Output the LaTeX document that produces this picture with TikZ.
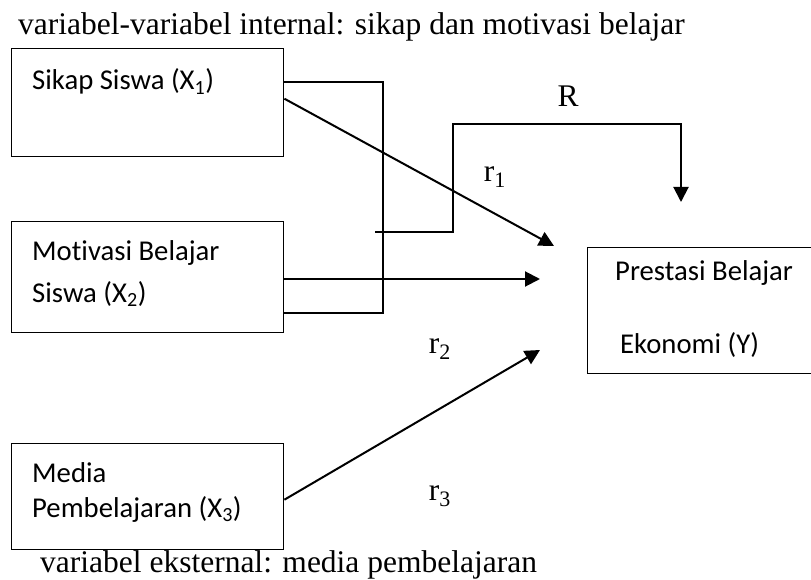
\documentclass[tikz,border=0pt]{standalone}
\usepackage{fontspec}
\setmainfont{Liberation Serif}
\newfontfamily\boxfont[Ligatures=NoCommon]{Carlito}
\usetikzlibrary{arrows.meta}

\begin{document}
\begin{tikzpicture}[x=1pt, y=-1pt,
    varbox/.style={draw, line width=1.4pt, anchor=north west, inner sep=0pt},
    boxtext/.style={anchor=base west, inner sep=0pt, font=\boxfont\fontsize{28.7}{34}\selectfont},
    serif/.style={anchor=base, inner sep=0pt, font=\fontsize{31.5}{36}\selectfont},
    link/.style={line width=2pt},
    arr/.style={line width=2pt, -{Triangle[length=15pt,width=15pt]}}]
    \useasboundingbox (0,0) rectangle (811,580);
    \clip (0,0) rectangle (811,580);

    % captions
    \node[serif, anchor=base west] (capin) at (18,35) {variabel-variabel internal: sikap dan motivasi belajar};
    \node[serif, anchor=base west] (capex) at (40,572) {variabel eksternal: media pembelajaran};

    % variable boxes
    \node[varbox, minimum width=272pt, minimum height=108pt] (x1) at (11,48) {};
    \node[boxtext] (x1a) at (32,90) {Sikap Siswa (X\textsubscript{1})};

    \node[varbox, minimum width=272pt, minimum height=111pt] (x2) at (11,221) {};
    \node[boxtext] (x2a) at (32,260) {Motivasi Belajar};
    \node[boxtext] (x2b) at (32,302) {Siswa (X\textsubscript{2})};

    \node[varbox, minimum width=272pt, minimum height=106pt] (x3) at (11,443) {};
    \node[boxtext] (x3a) at (32,482) {Media};
    \node[boxtext] (x3b) at (32,517) {Pembelajaran (X\textsubscript{3})};

    \node[varbox, minimum width=260pt, minimum height=126pt] (y) at (587,247) {};
    \node[boxtext] (ya) at (615,280) {Prestasi Belajar};
    \node[boxtext] (yb) at (620,353) {Ekonomi (Y)};

    % labels
    \node[serif] (lR) at (568,107) {R};
    \node[serif] (lr1) at (495,182) {r\textsubscript{1}};
    \node[serif] (lr2) at (440,353) {r\textsubscript{2}};
    \node[serif] (lr3) at (440,500) {r\textsubscript{3}};

    % free ends
    \coordinate (t1) at (554,246);
    \coordinate (t2) at (540,279);
    \coordinate (t3) at (540,350);
    \coordinate (bt) at (383,82);
    \coordinate (bb) at (383,313);
    \coordinate (rs) at (375,232);
    \coordinate (rk) at (453,124);
    \coordinate (rt) at (681,202);

    % bracket joining X1 and X2
    \draw[link] (x1.east |- bt) -- (bt) -- (bb) -- (x2.east |- bb);

    % R
    \draw[arr] (rs) -| (rk) -| (rt);

    % r1, r2, r3
    \draw[arr] ([yshift=4pt]x1.east) -- (t1);
    \draw[arr] (x2.east |- t2) -- (t2);
    \draw[arr] ([yshift=-3pt]x3.east) -- (t3);
\end{tikzpicture}
\end{document}
